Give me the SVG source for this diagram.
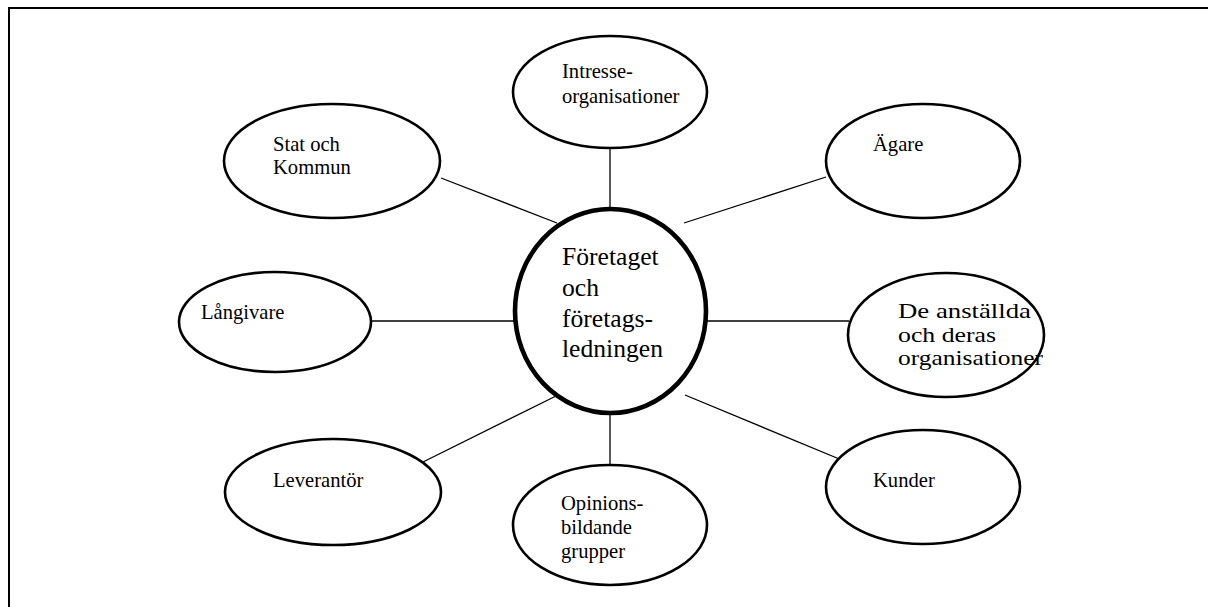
<svg xmlns="http://www.w3.org/2000/svg" width="1208" height="607" viewBox="0 0 1208 607">
<style>
.frame{fill:none;stroke:#000;stroke-width:2}
.node{fill:#fff;stroke:#000;stroke-width:2.6}
.center{fill:#fff;stroke:#000;stroke-width:4.6}
.conn line{stroke:#000;stroke-width:1.3}
text{font-family:"Liberation Serif","Times New Roman",serif;font-size:20.6px;fill:#000}
.big{font-size:25.6px}
</style>
<rect class="frame" x="9" y="8" width="1220" height="620"/>
<g class="conn">
<line x1="610" y1="148" x2="610" y2="209"/>
<line x1="610" y1="413" x2="610" y2="464"/>
<line x1="441" y1="178" x2="557" y2="223"/>
<line x1="826" y1="177" x2="684" y2="223"/>
<line x1="370" y1="321" x2="515" y2="321"/>
<line x1="706" y1="321" x2="849" y2="321"/>
<line x1="421" y1="463" x2="556" y2="396"/>
<line x1="685" y1="395" x2="849" y2="463"/>
</g>
<g id="intresse">
<ellipse class="node" cx="610" cy="92" rx="97" ry="56"/>
<text x="562" y="78">Intresse-</text>
<text x="562" y="103">organisationer</text>
</g>
<g id="stat">
<ellipse class="node" cx="332" cy="161" rx="108" ry="57"/>
<text x="273" y="151">Stat och</text>
<text x="273" y="174">Kommun</text>
</g>
<g id="agare">
<ellipse class="node" cx="923" cy="161" rx="97" ry="57"/>
<text x="873" y="151">Ägare</text>
</g>
<g id="langivare">
<ellipse class="node" cx="275" cy="322" rx="96" ry="50"/>
<text x="201" y="319">Långivare</text>
</g>
<g id="anstallda">
<ellipse class="node" cx="946" cy="335" rx="98" ry="62"/>
<text x="898" y="318" textLength="133" lengthAdjust="spacingAndGlyphs">De anställda</text>
<text x="898" y="342" textLength="98" lengthAdjust="spacingAndGlyphs">och deras</text>
<text x="898" y="365" textLength="145" lengthAdjust="spacingAndGlyphs">organisationer</text>
</g>
<g id="leverantor">
<ellipse class="node" cx="333" cy="492" rx="108" ry="53"/>
<text x="273" y="487">Leverantör</text>
</g>
<g id="opinions">
<ellipse class="node" cx="610" cy="525" rx="97" ry="60"/>
<text x="561" y="510">Opinions-</text>
<text x="561" y="534">bildande</text>
<text x="561" y="558">grupper</text>
</g>
<g id="kunder">
<ellipse class="node" cx="923" cy="487" rx="97" ry="57"/>
<text x="873" y="487">Kunder</text>
</g>
<g id="foretaget">
<ellipse class="center" cx="610.5" cy="311" rx="95.5" ry="102"/>
<text class="big" x="562" y="265">Företaget</text>
<text class="big" x="562" y="296">och</text>
<text class="big" x="562" y="327">företags-</text>
<text class="big" x="562" y="357">ledningen</text>
</g>
</svg>
